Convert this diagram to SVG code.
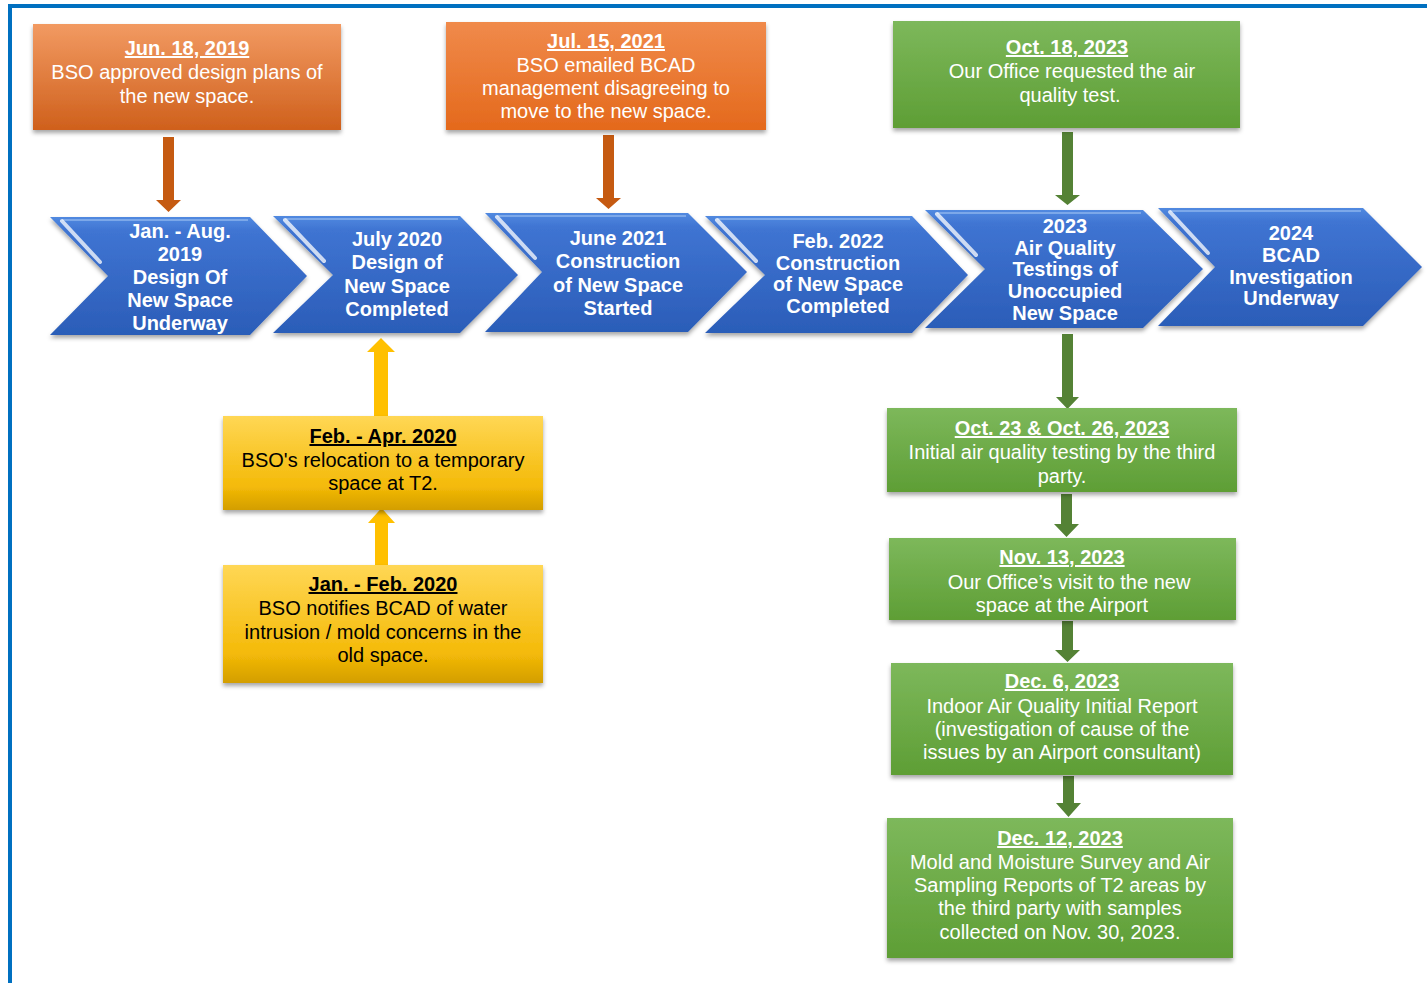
<svg xmlns="http://www.w3.org/2000/svg" width="1427" height="983" viewBox="0 0 1427 983">
<defs>
<linearGradient id="gBlue" x1="0" y1="0" x2="0" y2="1">
<stop offset="0" stop-color="#5189E0"/><stop offset="0.12" stop-color="#3F74D2"/><stop offset="1" stop-color="#2B5DB8"/>
</linearGradient>
<linearGradient id="gOrange" x1="0" y1="0" x2="0" y2="1">
<stop offset="0" stop-color="#F29A62"/><stop offset="1" stop-color="#CF601C"/>
</linearGradient>
<linearGradient id="gOrange2" x1="0" y1="0" x2="0" y2="1">
<stop offset="0" stop-color="#F08A4B"/><stop offset="1" stop-color="#E4691C"/>
</linearGradient>
<linearGradient id="gGreen" x1="0" y1="0" x2="0" y2="1">
<stop offset="0" stop-color="#7DB85B"/><stop offset="1" stop-color="#5E9E35"/>
</linearGradient>
<linearGradient id="gYellow" x1="0" y1="0" x2="0" y2="1">
<stop offset="0" stop-color="#FFD755"/><stop offset="0.75" stop-color="#F4BA08"/><stop offset="1" stop-color="#D39E00"/>
</linearGradient>
<filter id="sh" x="-10%" y="-10%" width="120%" height="130%">
<feDropShadow dx="0" dy="3" stdDeviation="2" flood-color="#000" flood-opacity="0.35"/>
</filter>
<style>
.chev{fill:url(#gBlue);filter:url(#sh)}
.hl{fill:none;stroke:#FFFFFF;stroke-opacity:0.75;stroke-width:4;stroke-linecap:round}
.tb{fill:none;stroke:#9CC0F2;stroke-opacity:0.6;stroke-width:2}
.ct{font-family:"Liberation Sans",Arial,sans-serif;font-weight:bold;font-size:20px;fill:#FFFFFF;text-anchor:middle}
.bt{font-family:"Liberation Sans",Arial,sans-serif;font-size:20px;text-anchor:middle}
.w{fill:#FFFFFF}
.k{fill:#000000}
.hd{font-weight:bold;text-decoration:underline}
.box{filter:url(#sh)}
</style>
</defs>
<rect x="0" y="0" width="1427" height="983" fill="#FFFFFF"/>
<path d="M10 983 V6 H1427" fill="none" stroke="#0070C0" stroke-width="4"/>

<g id="connectors">
<polygon points="163,137 174,137 174,200 181,200 168.5,212 156,200 163,200" fill="#C55A11"/>
<polygon points="603,135 614,135 614,198 621,198 608.5,209 596,198 603,198" fill="#C55A11"/>
<polygon points="1062,132 1073,132 1073,195 1080,195 1067.5,205 1055,195 1062,195" fill="#548235"/>
<polygon points="1062,334 1073,334 1073,397 1079,397 1067.5,409 1056,397 1062,397" fill="#548235"/>
<polygon points="1061,494 1072,494 1072,524 1079,524 1066.5,537 1054,524 1061,524" fill="#548235"/>
<polygon points="1062,621 1073,621 1073,650 1080,650 1067.5,662 1055,650 1062,650" fill="#548235"/>
<polygon points="1063,776 1074,776 1074,803 1081,803 1068.5,817 1056,803 1063,803" fill="#548235"/>
<polygon points="374,416 388,416 388,352 395,352 381,338 367,352 374,352" fill="#FFC000"/>
<polygon points="375,565 388,565 388,523 395,523 381.5,508 368,523 375,523" fill="#FFC000"/>
</g>

<g id="chev1">
<polygon class="chev" points="50,217 250,217 307,276 250,335 50,335 108,276"/>
<line class="tb" x1="62" y1="220" x2="248" y2="220"/>
<line class="hl" x1="62" y1="221" x2="100" y2="262"/>
<text class="ct" x="180"><tspan x="180" y="238">Jan. - Aug.</tspan><tspan x="180" y="261">2019</tspan><tspan x="180" y="284">Design Of</tspan><tspan x="180" y="307">New Space</tspan><tspan x="180" y="330">Underway</tspan></text>
</g>
<g id="chev2">
<polygon class="chev" points="273,216 460,216 518,275 460,333 273,333 333,275"/>
<line class="tb" x1="285" y1="219" x2="458" y2="219"/>
<line class="hl" x1="285" y1="220" x2="324" y2="261"/>
<text class="ct"><tspan x="397" y="246">July 2020</tspan><tspan x="397" y="269">Design of</tspan><tspan x="397" y="293">New Space</tspan><tspan x="397" y="316">Completed</tspan></text>
</g>
<g id="chev3">
<polygon class="chev" points="485,213 688,213 747,272 688,332 485,332 542,272"/>
<line class="tb" x1="497" y1="216" x2="686" y2="216"/>
<line class="hl" x1="497" y1="217" x2="535" y2="258"/>
<text class="ct"><tspan x="618" y="245">June 2021</tspan><tspan x="618" y="268">Construction</tspan><tspan x="618" y="292">of New Space</tspan><tspan x="618" y="315">Started</tspan></text>
</g>
<g id="chev4">
<polygon class="chev" points="705,216 912,216 968,275 912,333 705,333 765,275"/>
<line class="tb" x1="717" y1="219" x2="910" y2="219"/>
<line class="hl" x1="717" y1="220" x2="756" y2="261"/>
<text class="ct"><tspan x="838" y="248">Feb. 2022</tspan><tspan x="838" y="270">Construction</tspan><tspan x="838" y="291">of New Space</tspan><tspan x="838" y="313">Completed</tspan></text>
</g>
<g id="chev5">
<polygon class="chev" points="925,210 1143,210 1203,269 1143,328 925,328 985,269"/>
<line class="tb" x1="937" y1="213" x2="1141" y2="213"/>
<line class="hl" x1="937" y1="214" x2="976" y2="255"/>
<text class="ct"><tspan x="1065" y="233">2023</tspan><tspan x="1065" y="255">Air Quality</tspan><tspan x="1065" y="276">Testings of</tspan><tspan x="1065" y="298">Unoccupied</tspan><tspan x="1065" y="320">New Space</tspan></text>
</g>
<g id="chev6">
<polygon class="chev" points="1158,208 1363,208 1422,267 1363,326 1158,326 1215,267"/>
<line class="tb" x1="1170" y1="211" x2="1361" y2="211"/>
<line class="hl" x1="1170" y1="212" x2="1208" y2="253"/>
<text class="ct"><tspan x="1291" y="240">2024</tspan><tspan x="1291" y="262">BCAD</tspan><tspan x="1291" y="284">Investigation</tspan><tspan x="1291" y="305">Underway</tspan></text>
</g>

<g id="boxJun2019">
<rect class="box" x="33" y="24" width="308" height="106" fill="url(#gOrange)"/>
<text class="bt w"><tspan class="hd" x="187" y="55">Jun. 18, 2019</tspan><tspan x="187" y="79">BSO approved design plans of</tspan><tspan x="187" y="103">the new space.</tspan></text>
</g>
<g id="boxJul2021">
<rect class="box" x="446" y="22" width="320" height="108" fill="url(#gOrange2)"/>
<text class="bt w"><tspan class="hd" x="606" y="48">Jul. 15, 2021</tspan><tspan x="606" y="72">BSO emailed BCAD</tspan><tspan x="606" y="95">management disagreeing to</tspan><tspan x="606" y="118">move to the new space.</tspan></text>
</g>
<g id="boxOct18">
<rect class="box" x="893" y="21" width="347" height="107" fill="url(#gGreen)"/>
<text class="bt w"><tspan class="hd" x="1067" y="54">Oct. 18, 2023</tspan><tspan x="1072" y="78">Our Office requested the air</tspan><tspan x="1070" y="102">quality test.</tspan></text>
</g>
<g id="boxFebApr2020">
<rect class="box" x="223" y="416" width="320" height="94" fill="url(#gYellow)"/>
<text class="bt k"><tspan class="hd" x="383" y="443">Feb. - Apr. 2020</tspan><tspan x="383" y="467">BSO's relocation to a temporary</tspan><tspan x="383" y="490">space at T2.</tspan></text>
</g>
<g id="boxJanFeb2020">
<rect class="box" x="223" y="565" width="320" height="118" fill="url(#gYellow)"/>
<text class="bt k"><tspan class="hd" x="383" y="591">Jan. - Feb. 2020</tspan><tspan x="383" y="615">BSO notifies BCAD of water</tspan><tspan x="383" y="639">intrusion / mold concerns in the</tspan><tspan x="383" y="662">old space.</tspan></text>
</g>
<g id="boxOct23">
<rect class="box" x="887" y="408" width="350" height="84" fill="url(#gGreen)"/>
<text class="bt w"><tspan class="hd" x="1062" y="435">Oct. 23 &amp; Oct. 26, 2023</tspan><tspan x="1062" y="459">Initial air quality testing by the third</tspan><tspan x="1062" y="483">party.</tspan></text>
</g>
<g id="boxNov13">
<rect class="box" x="889" y="538" width="347" height="82" fill="url(#gGreen)"/>
<text class="bt w"><tspan class="hd" x="1062" y="564">Nov. 13, 2023</tspan><tspan x="1069" y="589">Our Office’s visit to the new</tspan><tspan x="1062" y="612">space at the Airport</tspan></text>
</g>
<g id="boxDec6">
<rect class="box" x="891" y="663" width="342" height="112" fill="url(#gGreen)"/>
<text class="bt w"><tspan class="hd" x="1062" y="688">Dec. 6, 2023</tspan><tspan x="1062" y="713">Indoor Air Quality Initial Report</tspan><tspan x="1062" y="736">(investigation of cause of the</tspan><tspan x="1062" y="759">issues by an Airport consultant)</tspan></text>
</g>
<g id="boxDec12">
<rect class="box" x="887" y="818" width="346" height="140" fill="url(#gGreen)"/>
<text class="bt w"><tspan class="hd" x="1060" y="845">Dec. 12, 2023</tspan><tspan x="1060" y="869">Mold and Moisture Survey and Air</tspan><tspan x="1060" y="892">Sampling Reports of T2 areas by</tspan><tspan x="1060" y="915">the third party with samples</tspan><tspan x="1060" y="939">collected on Nov. 30, 2023.</tspan></text>
</g>
</svg>
